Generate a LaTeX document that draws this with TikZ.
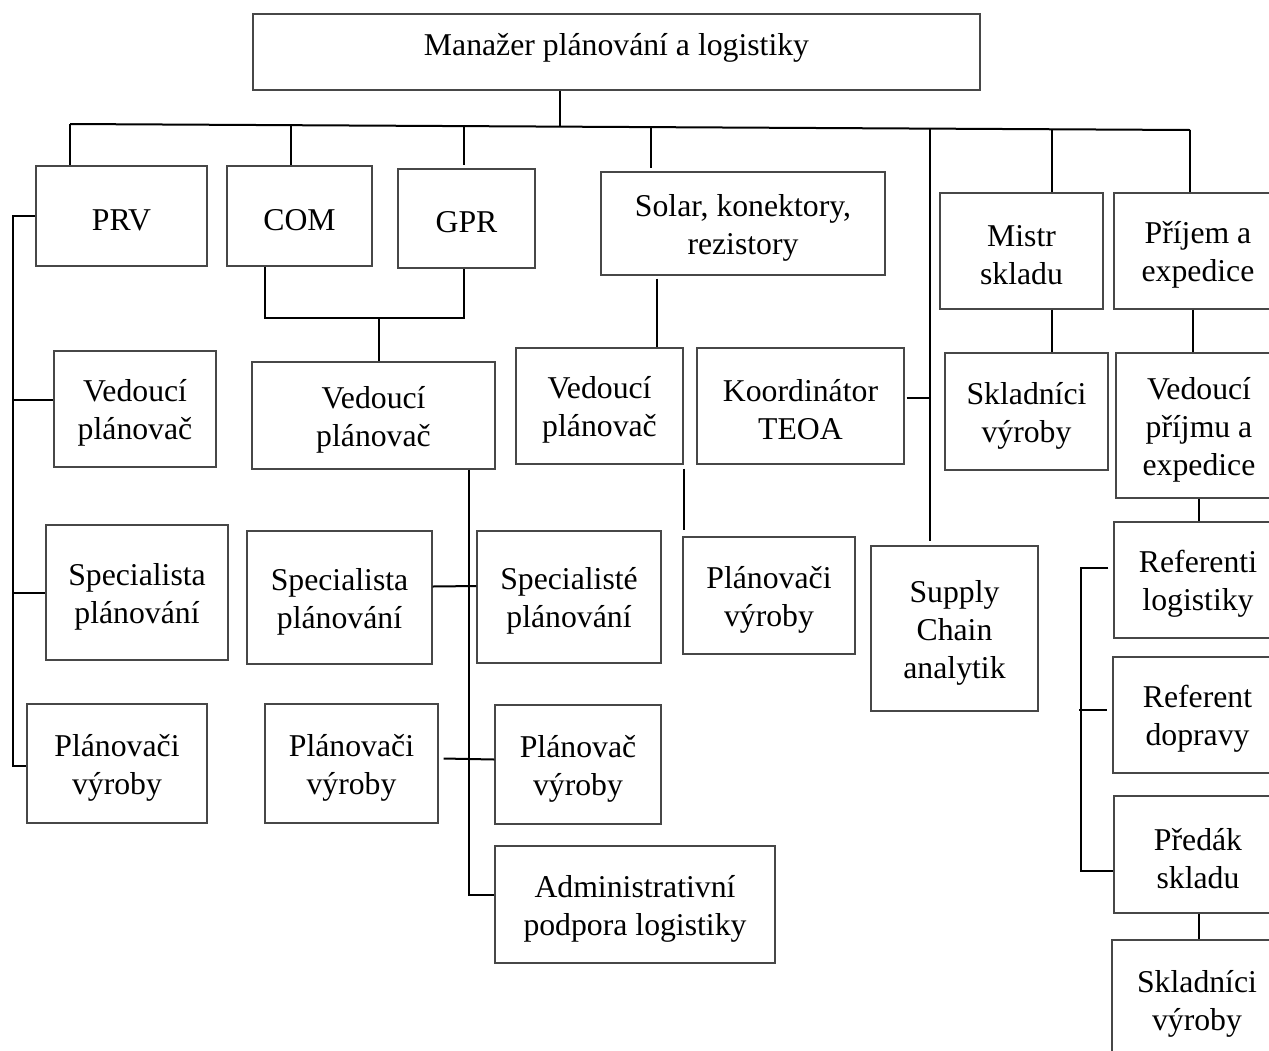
\documentclass[tikz,border=0pt]{standalone}
\usepackage{fontspec}
\setmainfont{Liberation Serif}
\usetikzlibrary{calc}

% \orgbox{name}{x1}{y1}{x2}{y2}{text}: a framed box given by its corners,
% with its text set slightly below the geometric centre
\newcommand\orgbox[6]{%
  \node[box, minimum width={(#4-#2)*0.75pt}, minimum height={(#5-#3)*0.75pt}]
    (#1) at ({(#2+#4)/2},{(#3+#5)/2}) {};
  \node[txt] (#1-t) at ($(#1.center)+(0,4)$) {#6};}

\begin{document}
\begin{tikzpicture}[x=0.75pt,y=-0.75pt,
  box/.style={draw=black!72, line width=0.9pt, inner sep=0pt},
  txt/.style={inner sep=0pt, align=center, font=\fontsize{23.8}{28.5}\selectfont},
  link/.style={draw=black, line width=1.5pt}]
\clip (0,0) rectangle (1269,1050);
\fill[white] (0,0) rectangle (1269,1050);

% ---- boxes ----
\orgbox{top}{253}{14}{980}{90}{\raisebox{5.8pt}[\height][\depth]{Manažer plánování a logistiky}}
\orgbox{prv}{36}{166}{207}{266}{PRV}
\orgbox{com}{227}{166}{372}{266}{COM}
\orgbox{gpr}{398}{169}{535}{268}{GPR}
\orgbox{solar}{601}{172}{885}{275}{Solar, konektory,\\rezistory}
\orgbox{mistr}{940}{193}{1103}{309}{Mistr\\skladu}
\orgbox{prij}{1114}{193}{1282}{309}{Příjem a\\expedice}

\orgbox{vl}{54}{351}{216}{467}{Vedoucí\\plánovač}
\orgbox{vm}{252}{362}{495}{469}{Vedoucí\\plánovač}
\orgbox{vs}{516}{348}{683}{464}{Vedoucí\\plánovač}
\orgbox{koord}{697}{348}{904}{464}{Koordinátor\\TEOA}
\orgbox{skm}{945}{353}{1108}{470}{Skladníci\\výroby}
\orgbox{vpr}{1116}{353}{1282}{498}{Vedoucí\\příjmu a\\expedice}

\orgbox{spl}{46}{525}{228}{660}{Specialista\\plánování}
\orgbox{spm}{247}{531}{432}{664}{Specialista\\plánování}
\orgbox{spe}{477}{531}{661}{663}{Specialisté\\plánování}
\orgbox{psl}{683}{537}{855}{654}{Plánovači\\výroby}
\orgbox{supply}{871}{546}{1038}{711}{Supply\\Chain\\analytik}
\orgbox{ref}{1114}{522}{1282}{638}{Referenti\\logistiky}

\orgbox{pvl}{27}{704}{207}{823}{Plánovači\\výroby}
\orgbox{plm}{265}{704}{438}{823}{Plánovači\\výroby}
\orgbox{ple}{495}{705}{661}{824}{Plánovač\\výroby}
\orgbox{rd}{1113}{657}{1282}{773}{Referent\\dopravy}
\orgbox{pre}{1114}{796}{1282}{913}{Předák\\skladu}
\orgbox{adm}{495}{846}{775}{963}{Administrativní\\podpora logistiky}
\orgbox{skp}{1112}{940}{1282}{1060}{Skladníci\\výroby}

% ---- main bar under the manager ----
\coordinate (barL) at (70,124);
\coordinate (barR) at (1190,130);
\draw[link] (barL) -- (barR);
\coordinate (bt)  at ($(barL)!{(560-70)/1120}!(barR)$);
\coordinate (bc)  at ($(barL)!{(291-70)/1120}!(barR)$);
\coordinate (bg)  at ($(barL)!{(464-70)/1120}!(barR)$);
\coordinate (bs)  at ($(barL)!{(651-70)/1120}!(barR)$);
\coordinate (bsc) at ($(barL)!{(930-70)/1120}!(barR)$);
\coordinate (bm)  at ($(barL)!{(1052-70)/1120}!(barR)$);

\draw[link] (bt |- top.south) -- (bt);
\draw[link] (barL) -- (barL |- prv.north);
\draw[link] (bc) -- (bc |- com.north);
\draw[link] (bg) -- ($(bg |- gpr.north)+(0,-3)$);
\draw[link] (bs) -- ($(bs |- solar.north)+(0,-3)$);
\draw[link] (bsc) -- ($(bsc |- supply.north)+(0,-4)$);
\draw[link] (bm) -- (bm |- mistr.north);
\draw[link] (barR) -- (barR |- prij.north);

% ---- PRV branch ----
\coordinate (lb) at (12.5,0);
\draw[link] (prv.west) -- (lb |- prv.west) |- ($(pvl.west)+(0,2)$);
\draw[link] ($(lb |- vl.west)+(0,-9)$) -- ($(vl.west)+(0,-9)$);
\draw[link] (lb |- spl.west) -- (spl.west);

% ---- COM / GPR branch ----
\coordinate (cg) at (379,318);
\draw[link] (265,0 |- com.south) |- (cg) -| (464,0 |- gpr.south);
\draw[link] (cg) -- (cg |- vm.north);
\coordinate (mv) at (469,0);
\draw[link] (mv |- vm.south) |- ($(adm.west)+(0,-10)$);
\draw[link] ($(spm.east)+(0,-11)$) -- ($(spe.west)+(0,-11)$);
\draw[link] ($(plm.east)+(5,-5)$) -- ($(ple.west)+(0,-5)$);

% ---- Solar branch ----
\coordinate (sv) at (657,0);
\draw[link] ($(sv |- solar.south)+(0,3)$) -- (sv |- vs.north);
\draw[link] ($(vs.south east)+(0,4)$) -- ($(vs.south east |- psl.north)+(0,-6)$);
\draw[link] ($(koord.east)+(2,-8)$) -- ($(bsc |- koord.east)+(0,-8)$);

% ---- warehouse branches ----
\draw[link] (bm |- mistr.south) -- (bm |- skm.north);
\draw[link] (1193,0 |- prij.south) -- (1193,0 |- vpr.north);
\draw[link] (1199,0 |- vpr.south) -- (1199,0 |- ref.north);
\draw[link] (1199,0 |- pre.south) -- (1199,0 |- skp.north);
\coordinate (rb) at (1081,0);
\draw[link] ($(ref.west)+(-5,-12)$) -| ($(rb |- pre.west)+(0,16.5)$) -- ($(pre.west)+(0,16.5)$);
\draw[link] ($(rb |- rd.west)+(-2,-5)$) -- ($(rd.west)+(-5,-5)$);
\end{tikzpicture}
\end{document}
